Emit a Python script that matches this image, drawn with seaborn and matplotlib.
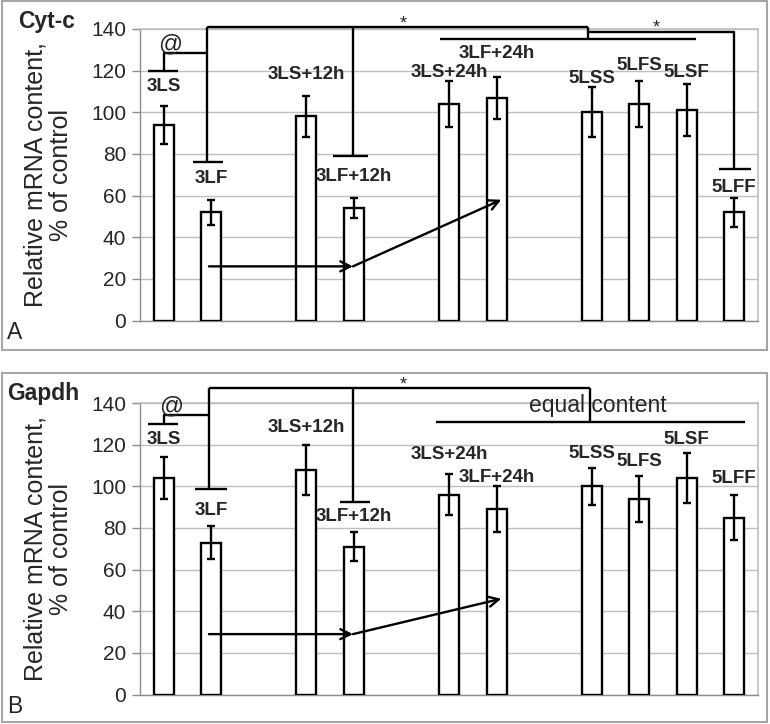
import matplotlib
matplotlib.use("Agg")
import matplotlib.pyplot as plt
from matplotlib.patches import Rectangle
import seaborn as sns
import pandas as pd

# ---------------- data ----------------
groups = ["3LS", "3LF", "3LS+12h", "3LF+12h", "3LS+24h", "3LF+24h",
          "5LSS", "5LFS", "5LSF", "5LFF"]
order = ["3LS", "3LF", " ", "3LS+12h", "3LF+12h", "  ", "3LS+24h", "3LF+24h",
         "   ", "5LSS", "5LFS", "5LSF", "5LFF"]
cytc_mean = [94, 52, 98, 54, 104, 107, 100, 104, 101, 52]
cytc_err = [9, 6, 10, 5, 11, 10, 12, 11, 12.5, 7]
gapdh_mean = [104, 73, 108, 71, 96, 89, 100, 94, 104, 85]
gapdh_err = [10, 8, 12, 7, 10, 11, 9, 11, 12, 11]
yticks = [0, 20, 40, 60, 80, 100, 120, 140]
cytc_label_y = [112.5, 68, 118, 69, 119, 128, 116, 122.5, 119, 64]
gapdh_label_y = [122.5, 88.5, 128, 85.6, 115.3, 104, 115.7, 112, 122.4, 103.7]

sns.set_style("white")
plt.rcParams["font.family"] = ["Liberation Sans", "DejaVu Sans"]

W, H = 770, 724
fig = plt.figure(figsize=(W / 100, H / 100), dpi=100)


def fx(px):
    return px / W


def fy(py):
    return 1 - py / H


axA = fig.add_axes([fx(140), fy(320.5), fx(758) - fx(140), fy(29) - fy(320.5)])
axB = fig.add_axes([fx(140), fy(694.5), fx(758) - fx(140), fy(403) - fy(694.5)])

LW = 1.7
GRID = "#bfbfbf"


def draw_panel(ax, means, errs, label_y):
    df = pd.DataFrame({"group": groups, "value": means})
    sns.barplot(data=df, x="group", y="value", order=order, ax=ax,
                color="white", edgecolor="black", linewidth=LW, width=0.42,
                saturation=1, errorbar=None, zorder=3)
    pos = [order.index(g) for g in groups]
    ax.errorbar(pos, means, yerr=errs, fmt="none", ecolor="black",
                elinewidth=LW, capsize=3, capthick=LW, zorder=4)
    for p, ly, g in zip(pos, label_y, groups):
        ax.text(p, ly, g, ha="center", va="center", fontsize=13.5,
                fontweight="bold", zorder=5)
    ax.set_xlim(-0.5, 12.5)
    ax.set_ylim(0, 140)
    ax.set_yticks(yticks)
    ax.set_xticks([])
    ax.set_xlabel("")
    ax.set_ylabel("")
    ax.yaxis.grid(True, color=GRID, lw=1.0, zorder=0)
    ax.set_axisbelow(True)
    for s in ["top", "right"]:
        ax.spines[s].set_color(GRID)
        ax.spines[s].set_linewidth(1.2)
    ax.spines["left"].set_color("#8c8c8c")
    ax.spines["left"].set_linewidth(1.0)
    ax.spines["bottom"].set_color("#8c8c8c")
    ax.spines["bottom"].set_linewidth(1.0)
    ax.tick_params(axis="y", direction="out", length=6, width=1.0,
                   color="#8c8c8c", labelsize=15, pad=4, left=True)


def line(ax, xs, ys):
    ax.plot(xs, ys, color="black", lw=LW, clip_on=False, zorder=6,
            solid_capstyle="butt")


def arrow(ax, x0, y0, x1, y1):
    ax.annotate("", xy=(x1, y1), xytext=(x0, y0),
                arrowprops=dict(arrowstyle="->", lw=LW, color="black",
                                mutation_scale=18, shrinkA=0, shrinkB=0),
                zorder=6, annotation_clip=False)


# ---------- Panel A (Cyt-c) ----------
draw_panel(axA, cytc_mean, cytc_err, cytc_label_y)
line(axA, [-0.33, 0.30], [120, 120])
line(axA, [0, 0, 0.91], [120, 128.4, 128.4])
line(axA, [0.91, 0.91], [141, 76])
line(axA, [0.62, 1.25], [76, 76])
line(axA, [0.91, 8.92], [141, 141])
line(axA, [3.98, 3.98], [141, 79])
line(axA, [3.56, 4.30], [79, 79])
line(axA, [8.92, 8.92], [141, 135])
line(axA, [5.81, 11.2], [135, 135])
line(axA, [8.92, 12.0, 12.0], [138.6, 138.6, 72.6])
line(axA, [11.68, 12.35], [72.6, 72.6])
axA.text(0.14, 132.5, "@", ha="center", va="center", fontsize=17, zorder=6)
axA.text(5.03, 142.5, "*", ha="center", va="center", fontsize=13, clip_on=False)
axA.text(10.35, 140.5, "*", ha="center", va="center", fontsize=13, clip_on=False)
arrow(axA, 0.95, 26, 3.98, 26)
arrow(axA, 3.98, 26, 7.1, 58)

# ---------- Panel B (Gapdh) ----------
draw_panel(axB, gapdh_mean, gapdh_err, gapdh_label_y)
line(axB, [-0.33, 0.30], [130, 130])
line(axB, [0, 0, 0.95], [130, 134, 134])
line(axB, [0.95, 0.95], [147, 98.6])
line(axB, [0.66, 1.33], [98.6, 98.6])
line(axB, [0.95, 8.97], [147, 147])
line(axB, [3.98, 3.98], [147, 92.5])
line(axB, [3.71, 4.34], [92.5, 92.5])
line(axB, [8.97, 8.97], [147, 131])
line(axB, [5.73, 12.23], [131, 131])
axB.text(0.15, 138.5, "@", ha="center", va="center", fontsize=17, zorder=6,
         clip_on=False)
axB.text(5.03, 148.5, "*", ha="center", va="center", fontsize=13, clip_on=False)
axB.text(9.13, 138.6, "equal content", ha="center", va="center", fontsize=16.5,
         clip_on=False, zorder=7)
arrow(axB, 0.95, 29, 3.98, 29)
arrow(axB, 3.98, 29, 7.1, 46)

# ---------- figure-level text and frames ----------
ylab = "Relative mRNA content,\n% of control"
fig.text(fx(48), fy((29 + 320.5) / 2), ylab, rotation=90, ha="center",
         va="center", ma="center", fontsize=18, linespacing=1.1)
fig.text(fx(48), fy((403 + 694.5) / 2), ylab, rotation=90, ha="center",
         va="center", ma="center", fontsize=18, linespacing=1.1)
fig.text(fx(18), fy(28), "Cyt-c", fontsize=16.5, fontweight="bold",
         va="baseline", ha="left")
fig.text(fx(7), fy(400), "Gapdh", fontsize=16.5, fontweight="bold",
         va="baseline", ha="left")
fig.text(fx(7), fy(339), "A", fontsize=16.5, va="baseline", ha="left")
fig.text(fx(7), fy(713), "B", fontsize=16.5, va="baseline", ha="left")

for top, bot in [(1, 350), (373, 722)]:
    fig.add_artist(Rectangle((fx(2), fy(bot)), fx(767) - fx(2), fy(top) - fy(bot),
                             transform=fig.transFigure, fill=False,
                             edgecolor="#a6a6a6", lw=1.5))

fig.savefig("out.png", dpi=100)
